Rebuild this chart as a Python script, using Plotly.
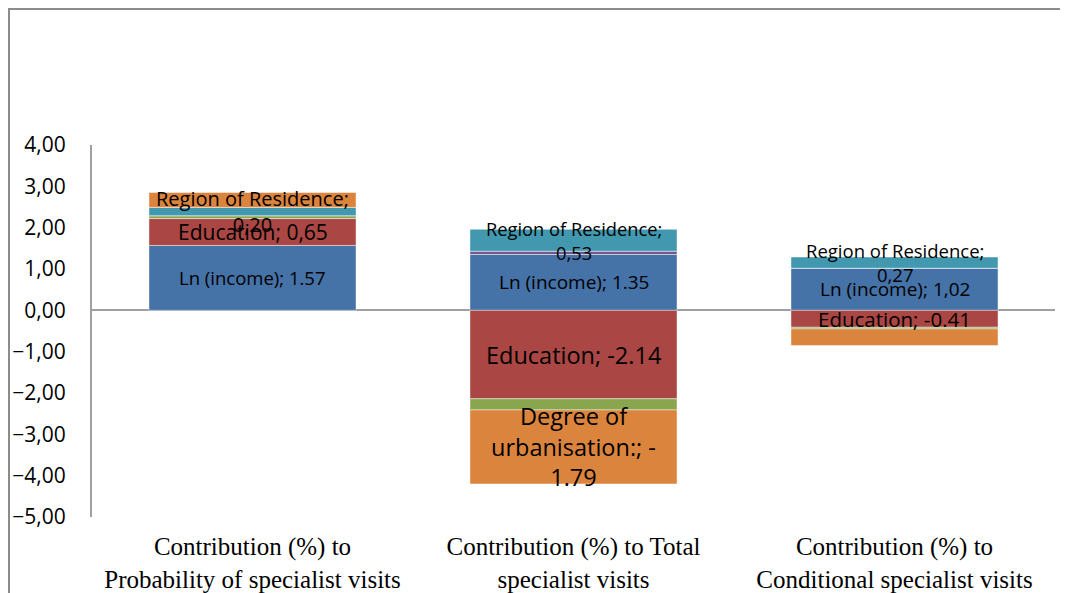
import plotly.graph_objects as go

# categories (x axis)
categories = [
    "Contribution (%) to<br>Probability of specialist visits",
    "Contribution (%) to Total<br>specialist visits",
    "Contribution (%) to<br>Conditional specialist visits",
]

# stacked contributions, in stacking order
ln_income = [1.57, 1.35, 1.02]
education = [0.65, -2.14, -0.41]
other_green = [0.07, -0.27, -0.04]
other_purple = [0.00, 0.08, 0.00]
region = [0.20, 0.53, 0.27]
urbanisation = [0.36, -1.79, -0.40]

# data labels shown on the bars (None = no label)
ln_income_lbl = ["Ln (income); 1.57", "Ln (income); 1.35", "Ln (income); 1,02"]
education_lbl = ["Education; 0,65", "Education; -2.14", "Education; -0.41"]
region_lbl = ["Region of Residence;<br>0,20", "Region of Residence;<br>0,53",
              "Region of Residence;<br>0,27"]
urbanisation_lbl = [None, "Degree of<br>urbanisation:; -<br>1.79", None]

y_ticks = [4, 3, 2, 1, 0, -1, -2, -3, -4, -5]

series = [
    ("Ln (income)", ln_income, ln_income_lbl, "#4572A7"),
    ("Education", education, education_lbl, "#AA4643"),
    ("Other", other_green, None, "#89A54E"),
    ("Other (2)", other_purple, None, "#71588F"),
    ("Region of Residence", region, region_lbl, "#4198AF"),
    ("Degree of urbanisation", urbanisation, urbanisation_lbl, "#DB843D"),
]

# font size per labelled series / category (visual style only)
label_size = {
    "Ln (income)": [18.5, 19, 19],
    "Education": [21, 23.5, 20.5],
    "Region of Residence": [20, 18.3, 18.5],
    "Degree of urbanisation": [23.5, 23.5, 23.5],
}
FONT = "Open Sans"

fig = go.Figure()
pos = [0.0] * len(categories)
neg = [0.0] * len(categories)
for name, vals, labels, col in series:
    fig.add_trace(go.Bar(
        x=categories, y=vals, name=name,
        marker=dict(color=col, line=dict(color="rgba(255,255,255,0.45)", width=1)),
    ))
    for i, v in enumerate(vals):
        base = pos[i] if v >= 0 else neg[i]
        mid = base + v / 2
        if v >= 0:
            pos[i] += v
        else:
            neg[i] += v
        if labels and labels[i]:
            fig.add_annotation(
                x=categories[i], y=mid, text=labels[i], showarrow=False,
                font=dict(family=FONT, size=label_size[name][i], color="#000000"),
                xanchor="center", yanchor="middle", align="center",
            )

# outer chart border (cropped on the right/bottom in the original)
fig.add_shape(type="rect", xref="paper", yref="paper",
              x0=-0.0862, x1=1.03, y0=-0.3, y1=1.3656,
              line=dict(color="#8c8c8c", width=2), fillcolor="rgba(0,0,0,0)")

# page body keeps an 8px margin, so the figure is 8px smaller each way
fig.update_layout(
    width=1060, height=585,
    margin=dict(l=84, r=13, t=137, b=76),
    barmode="relative", bargap=0.355,
    paper_bgcolor="white", plot_bgcolor="white",
    showlegend=False,
    separators=",.",
    xaxis=dict(showline=False, showgrid=False, zeroline=False, automargin=False,
               ticklabelstandoff=12,
               tickfont=dict(family="Liberation Serif", size=25, color="#000000")),
    yaxis=dict(range=[-5, 4], tickvals=y_ticks, tickformat=".2f", automargin=False,
               showgrid=False, showline=True, linecolor="#a0a0a0", linewidth=2,
               zeroline=True, zerolinecolor="#a0a0a0", zerolinewidth=2,
               ticks="", ticklabelstandoff=20,
               tickfont=dict(family=FONT, size=21, color="#000000")),
)

fig.write_html("out.html")
